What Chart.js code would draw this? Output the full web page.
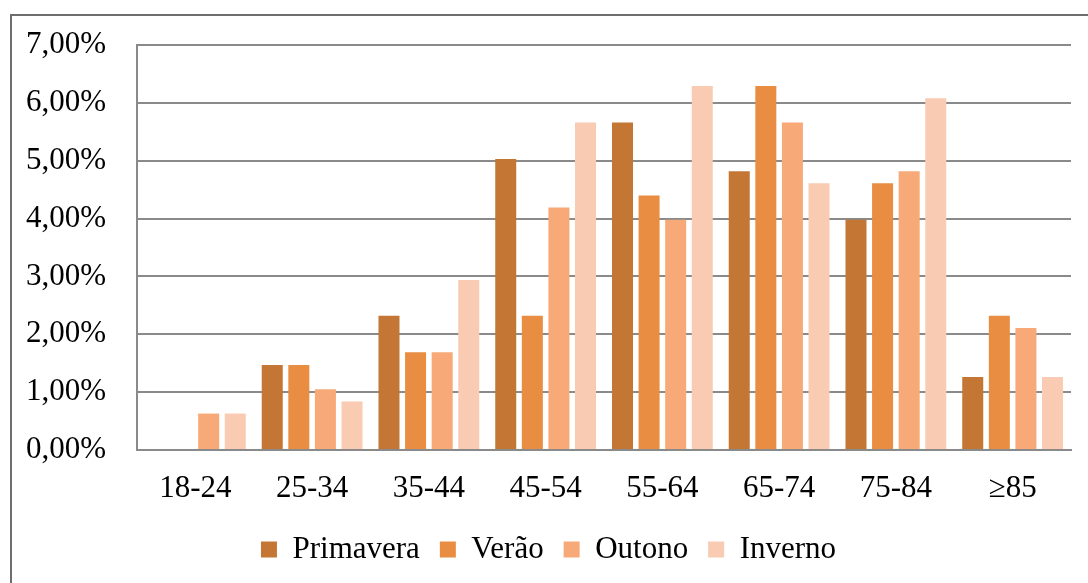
<!DOCTYPE html>
<html lang="pt">
<head>
<meta charset="utf-8">
<title>Distribuição por faixa etária e estação do ano</title>
<script src="https://cdn.jsdelivr.net/npm/chart.js@4.4.1/dist/chart.umd.min.js"></script>
<style>
  html, body { margin: 0; padding: 0; background: #ffffff; overflow: hidden; }
  body { width: 1088px; height: 583px; position: relative; }
  #frame {
    position: absolute; left: 10px; top: 14px;
    width: 1200px; height: 700px;
    border: 2px solid #6e6e6e; box-sizing: border-box;
  }
  #wrap { position: absolute; left: 0; top: 0; width: 1088px; height: 583px; }
</style>
</head>
<body>
<div id="frame"></div>
<div id="wrap"><canvas id="chart" width="1088" height="583"></canvas></div>
<script>
// Age groups on the x axis
const ageGroups = ['18-24', '25-34', '35-44', '45-54', '55-64', '65-74', '75-84', '\u226585'];

// Share of cases (%) per season
const primavera = [0, 1.47, 2.32, 5.03, 5.66, 4.82, 3.98, 1.26];
const verao     = [0, 1.47, 1.69, 2.32, 4.40, 6.29, 4.61, 2.32];
const outono    = [0.63, 1.05, 1.69, 4.19, 3.98, 5.66, 4.82, 2.11];
const inverno   = [0.63, 0.84, 2.94, 5.66, 6.29, 4.61, 6.08, 1.26];

// Y axis ticks (%)
const yTicks = [0, 1, 2, 3, 4, 5, 6, 7];

const seriesNames = ['Primavera', 'Ver\u00e3o', 'Outono', 'Inverno'];
const seriesColors = ['#c47634', '#e88d42', '#f7aa78', '#f8cbb2'];
const seriesValues = [primavera, verao, outono, inverno];

const fontFamily = "'Liberation Serif', 'Times New Roman', serif";
const gridColor = '#8a8a8a';

const datasets = seriesNames.map((name, i) => ({
  label: name,
  data: seriesValues[i],
  backgroundColor: seriesColors[i],
  borderWidth: 0,
  categoryPercentage: 0.911,
  barPercentage: 0.79
}));

new Chart(document.getElementById('chart'), {
  type: 'bar',
  data: { labels: ageGroups, datasets },
  options: {
    responsive: false,
    animation: false,
    devicePixelRatio: 1,
    layout: { padding: { left: 26, right: 17, top: 45, bottom: 8 } },
    plugins: {
      tooltip: { enabled: false },
      legend: {
        position: 'bottom',
        align: 'center',
        labels: {
          color: '#000',
          font: { family: fontFamily, size: 31 },
          boxWidth: 16,
          boxHeight: 16,
          padding: 20
        }
      }
    },
    scales: {
      x: {
        grid: { display: false, drawTicks: false },
        border: { display: true, color: gridColor, width: 2 },
        ticks: {
          color: '#000',
          font: { family: fontFamily, size: 31 },
          padding: 20,
          maxRotation: 0,
          autoSkip: false
        },
        afterFit: (s) => { s.height = 64; }
      },
      y: {
        min: yTicks[0],
        max: yTicks[yTicks.length - 1],
        afterBuildTicks: (s) => { s.ticks = yTicks.map(v => ({ value: v })); },
        grid: { color: gridColor, lineWidth: 2, drawTicks: false },
        border: { display: true, color: gridColor, width: 2 },
        ticks: {
          color: '#000',
          font: { family: fontFamily, size: 31 },
          padding: 31,
          callback: (v) => v.toFixed(2).replace('.', ',') + '%'
        },
        afterFit: (s) => {
          // fixed axis width; let the layout padding alone set the plot top
          s.width = 111;
          s.paddingTop = 0;
          s.paddingBottom = 0;
        }
      }
    }
  }
});
</script>
</body>
</html>
